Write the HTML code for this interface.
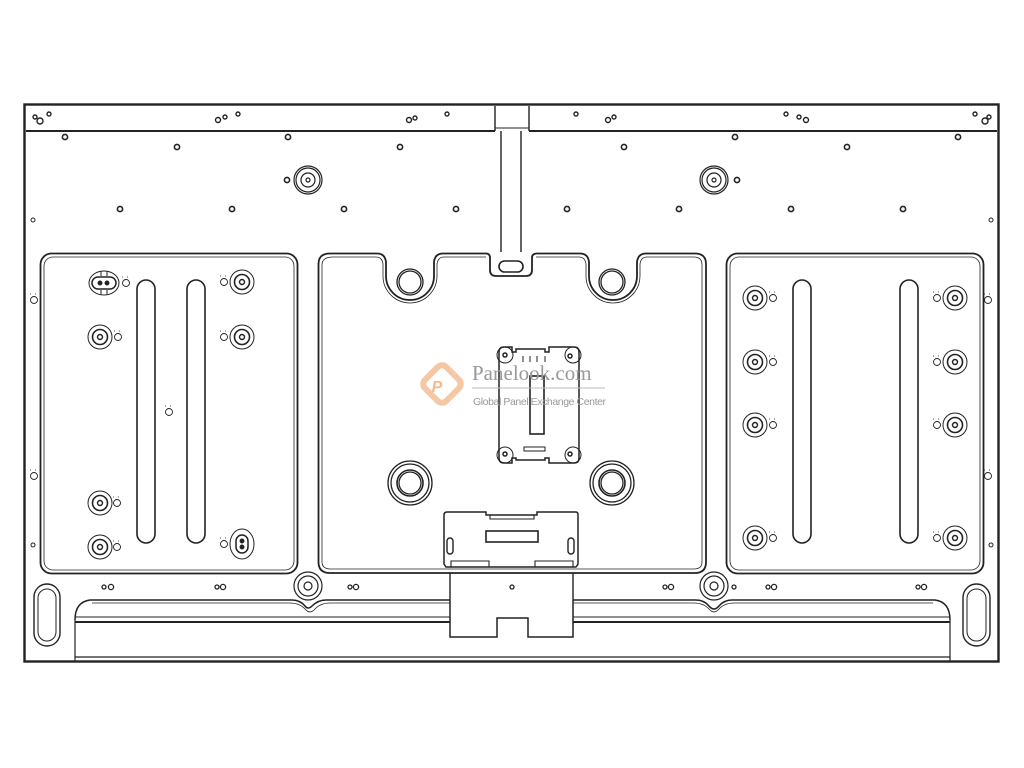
<!DOCTYPE html>
<html><head><meta charset="utf-8"><style>
html,body{margin:0;padding:0;background:#fff;}
svg{display:block}
</style></head><body>
<svg width="1024" height="768" viewBox="0 0 1024 768" xmlns="http://www.w3.org/2000/svg" fill="none" stroke="#222" stroke-width="1.3">
<defs>
<g id="sm"><circle r="2.6" stroke-width="1.6"/></g>
<g id="boss"><circle r="12" stroke-width="1"/><circle r="7.5" stroke-width="1.6"/><circle r="2.5" stroke-width="1.4"/></g>
<g id="pin"><circle cx="0" cy="2" r="3.5" stroke-width="0.9"/><path d="M-4 -4h2M1 -4h2" stroke-width="0.8" stroke-dasharray="1 1"/></g>
</defs>
<!-- outer frame -->
<rect x="24.5" y="104.5" width="974" height="557" stroke-width="2.4"/>
<line x1="26" y1="131" x2="495" y2="131" stroke-width="2"/>
<line x1="529" y1="131" x2="997" y2="131" stroke-width="2"/>
<path d="M495 106V131M529 106V131M501 131V252M521 131V252" stroke-width="1.4"/>
<path d="M495 128H529" stroke-width="1"/>
<!-- top small holes -->
<g stroke-width="1.4">
<circle cx="35" cy="117" r="2"/><circle cx="40" cy="121" r="3"/><circle cx="49" cy="114" r="2"/>
<circle cx="218" cy="120" r="2.5"/><circle cx="225" cy="117" r="2"/><circle cx="238" cy="114" r="2"/>
<circle cx="409" cy="120" r="2.5"/><circle cx="415" cy="118" r="2"/><circle cx="447" cy="114" r="2"/>
<circle cx="576" cy="114" r="2"/><circle cx="608" cy="120" r="2.5"/><circle cx="614" cy="117" r="2"/>
<circle cx="786" cy="114" r="2"/><circle cx="799" cy="117" r="2"/><circle cx="806" cy="120" r="2.5"/>
<circle cx="975" cy="114" r="2"/><circle cx="985" cy="121" r="3"/><circle cx="989" cy="117" r="2"/>
</g>
<g>
<use href="#sm" x="65" y="137"/><use href="#sm" x="177" y="147"/><use href="#sm" x="288" y="137"/><use href="#sm" x="400" y="147"/>
<use href="#sm" x="624" y="147"/><use href="#sm" x="735" y="137"/><use href="#sm" x="847" y="147"/><use href="#sm" x="958" y="137"/>
<use href="#sm" x="120" y="209"/><use href="#sm" x="232" y="209"/><use href="#sm" x="344" y="209"/><use href="#sm" x="456" y="209"/>
<use href="#sm" x="567" y="209"/><use href="#sm" x="679" y="209"/><use href="#sm" x="791" y="209"/><use href="#sm" x="903" y="209"/>
<use href="#sm" x="287" y="180"/><use href="#sm" x="737" y="180"/>
</g>
<circle cx="33" cy="220" r="2" stroke-width="1"/><circle cx="991" cy="220" r="2" stroke-width="1"/>
<circle cx="33" cy="545" r="2" stroke-width="1"/><circle cx="991" cy="545" r="2" stroke-width="1"/>
<use href="#pin" x="34" y="298"/><use href="#pin" x="34" y="474"/><use href="#pin" x="988" y="298"/><use href="#pin" x="988" y="474"/>
<!-- top bosses -->
<g stroke-width="1.2"><circle cx="308" cy="180" r="14"/><circle cx="308" cy="180" r="12"/><circle cx="308" cy="180" r="7"/><circle cx="308" cy="180" r="2"/>
<circle cx="714" cy="180" r="14"/><circle cx="714" cy="180" r="12"/><circle cx="714" cy="180" r="7"/><circle cx="714" cy="180" r="2"/></g>
<!-- left panel -->
<rect x="40.5" y="253.5" width="257" height="320" rx="11" stroke-width="1.8"/>
<rect x="44" y="257" width="250" height="313" rx="9" stroke-width="0.8"/>
<rect x="137" y="280" width="18" height="263" rx="9" stroke-width="1.6"/>
<rect x="187" y="280" width="18" height="263" rx="9" stroke-width="1.6"/>
<!-- right panel -->
<rect x="726.5" y="253.5" width="257" height="320" rx="11" stroke-width="1.8"/>
<rect x="730" y="257" width="250" height="313" rx="9" stroke-width="0.8"/>
<rect x="793" y="280" width="18" height="263" rx="9" stroke-width="1.6"/>
<rect x="900" y="280" width="18" height="263" rx="9" stroke-width="1.6"/>
<!-- left bosses -->
<g><ellipse cx="104" cy="283" rx="15" ry="12" stroke-width="1"/><rect x="92" y="277" width="24" height="12" rx="6" stroke-width="1.5"/><path d="M101 271v5M107 271v5M101 290v5M107 290v5" stroke-width="1"/><circle cx="100" cy="283" r="1.8" fill="#222"/><circle cx="107" cy="283" r="1.8" fill="#222"/></g>
<use href="#pin" x="126" y="281"/>
<use href="#boss" x="100" y="337"/><use href="#pin" x="118" y="335"/>
<use href="#boss" x="242" y="282"/><use href="#pin" x="224" y="280"/>
<use href="#boss" x="242" y="337"/><use href="#pin" x="224" y="335"/>
<use href="#boss" x="100" y="503"/><use href="#pin" x="117" y="501"/>
<use href="#boss" x="100" y="547"/><use href="#pin" x="117" y="545"/>
<g><ellipse cx="242" cy="544" rx="12" ry="15" stroke-width="1"/><rect x="236" y="535" width="12" height="18" rx="6" stroke-width="1.5"/><circle cx="242" cy="541" r="1.8" fill="#222"/><circle cx="242" cy="547" r="1.8" fill="#222"/></g>
<use href="#pin" x="224" y="542"/><use href="#pin" x="169" y="410"/>
<!-- right bosses -->
<use href="#boss" x="755" y="298"/><use href="#pin" x="773" y="296"/>
<use href="#boss" x="755" y="362"/><use href="#pin" x="773" y="360"/>
<use href="#boss" x="755" y="425"/><use href="#pin" x="773" y="423"/>
<use href="#boss" x="755" y="538"/><use href="#pin" x="773" y="536"/>
<use href="#boss" x="955" y="298"/><use href="#pin" x="937" y="296"/>
<use href="#boss" x="955" y="362"/><use href="#pin" x="937" y="360"/>
<use href="#boss" x="955" y="425"/><use href="#pin" x="937" y="423"/>
<use href="#boss" x="955" y="538"/><use href="#pin" x="937" y="536"/>
<!-- center panel -->
<path d="M330 253.5H377Q385 253.5 386 262V276A24 24 0 0 0 434 276V262Q435 253.5 443 253.5H486Q490 253.5 490 258V270Q490 276 496 276H526Q532 276 532 270V258Q532 253.5 537 253.5H580Q588 253.5 589 262V276A24 24 0 0 0 637 276V262Q638 253.5 646 253.5H695Q706 253.5 706 264V562Q706 573 695 573H330Q318.5 573 318.5 562V264Q318.5 253.5 330 253.5Z" stroke-width="1.8"/>
<path d="M333 257H376Q382 257 383 264V276A27 27 0 0 0 437 276V264Q438 257 444 257H486M536 257H579Q585 257 586 264V276A27 27 0 0 0 640 276V264Q641 257 647 257H694Q702 257 702 265V562Q702 569 694 569H331Q322 569 322 562V265Q322 257 333 257" stroke-width="0.8"/>
<rect x="499" y="261" width="24" height="11" rx="5.5" stroke-width="1.6"/>
<g stroke-width="1.3"><circle cx="410" cy="282" r="13"/><circle cx="410" cy="282" r="11"/><circle cx="612" cy="282" r="13"/><circle cx="612" cy="282" r="11"/>
<circle cx="410" cy="483" r="22"/><circle cx="410" cy="483" r="19"/><circle cx="410" cy="483" r="13" stroke-width="1.6"/><circle cx="410" cy="483" r="11"/>
<circle cx="612" cy="483" r="22"/><circle cx="612" cy="483" r="19"/><circle cx="612" cy="483" r="13" stroke-width="1.6"/><circle cx="612" cy="483" r="11"/></g>
<!-- center bracket -->
<path d="M499 352Q499 347 504 347H512V352H516V349H545V352H549V347H574Q579 347 579 352V458Q579 463 574 463H549V458H545V460H516V458H512V463H504Q499 463 499 458Z" stroke-width="1.5"/>
<g stroke-width="1"><circle cx="505" cy="355" r="8"/><circle cx="573" cy="355" r="8"/><circle cx="505" cy="455" r="8"/><circle cx="573" cy="455" r="8"/></g>
<g><circle cx="505" cy="355" r="2" stroke-width="1.5"/><circle cx="570" cy="356" r="2" stroke-width="1.5"/><circle cx="505" cy="454" r="2" stroke-width="1.5"/><circle cx="570" cy="454" r="2" stroke-width="1.5"/></g>
<rect x="530" y="376" width="14" height="58" stroke-width="1.6"/>
<path d="M523 356v6M530 356v6M537 356v6M545 356v6M524 451h21v-4h-21z" stroke-width="1"/>
<!-- lower bracket -->
<path d="M447 512H486V515H537V512H576Q578 512 578 515V564L576 567H446L444 564V515Q444 512 447 512Z" stroke-width="1.5"/>
<path d="M490 515v4h44v-4M451 567v-6h38v6M535 567v-6h38v6" stroke-width="1.1"/>
<rect x="486" y="531" width="52" height="11" stroke-width="1.6"/>
<rect x="447" y="538" width="6" height="16" rx="3" stroke-width="1.4"/><rect x="568" y="538" width="6" height="16" rx="3" stroke-width="1.4"/>
<!-- bottom block and rail -->
<path d="M450 573V600M573 573V600" stroke-width="1.4"/>
<path d="M90 600H292Q300 600 305 606Q308 610 312 606Q318 600 326 600H450M573 600H696Q704 600 709 606Q714 612 719 606Q724 600 732 600H935Q950 602 950 620" stroke-width="1.5"/>
<path d="M75 620Q75 602 90 600" stroke-width="1.5"/>
<path d="M92 603H290Q300 603 306 610Q310 614 314 610Q320 603 330 603H450M573 603H694Q704 603 710 610Q714 614 718 610Q724 603 734 603H933" stroke-width="0.8"/>
<path d="M75 617H450M573 617H950" stroke-width="1"/>
<path d="M75 622H450M573 622H950" stroke-width="2"/>
<path d="M450 600V637H497V618H528V637H573V600" stroke-width="1.5"/>
<path d="M75 620V661M950 620V661M75 657H950" stroke-width="1.2"/>
<g stroke-width="1.2"><circle cx="308" cy="586" r="14"/><circle cx="308" cy="586" r="10"/><circle cx="308" cy="586" r="4"/>
<circle cx="714" cy="586" r="14"/><circle cx="714" cy="586" r="10"/><circle cx="714" cy="586" r="4"/></g>
<g stroke-width="1.3"><circle cx="104" cy="587" r="2"/><circle cx="111" cy="587" r="2.6"/><circle cx="217" cy="587" r="2"/><circle cx="223" cy="587" r="2.6"/><circle cx="350" cy="587" r="2"/><circle cx="356" cy="587" r="2.6"/><circle cx="512" cy="587" r="2"/>
<circle cx="665" cy="587" r="2"/><circle cx="671" cy="587" r="2.6"/><circle cx="734" cy="587" r="2"/><circle cx="768" cy="587" r="2"/><circle cx="774" cy="587" r="2.6"/><circle cx="918" cy="587" r="2"/><circle cx="924" cy="587" r="2.6"/></g>
<rect x="34" y="584" width="26" height="62" rx="13" stroke-width="1.4"/><rect x="38" y="589" width="18" height="52" rx="9" stroke-width="1"/>
<rect x="963" y="584" width="27" height="62" rx="13.5" stroke-width="1.4"/><rect x="967" y="589" width="19" height="52" rx="9.5" stroke-width="1"/>
<!-- watermark -->
<g transform="translate(442 384) rotate(45)"><rect x="-15" y="-15" width="30" height="30" rx="6" stroke="#f6c7a5" stroke-width="6"/></g>
<text x="437" y="392" fill="#f4b98e" stroke="none" font-family="Liberation Sans, sans-serif" font-weight="bold" font-style="italic" font-size="16" text-anchor="middle">P</text>
<text x="472" y="380" fill="#999" stroke="none" font-family="Liberation Serif, serif" font-size="21">Panelook.com</text>
<line x1="472" y1="388" x2="605" y2="388" stroke="#bbb" stroke-width="1"/>
<text x="473" y="405" fill="#999" stroke="none" font-family="Liberation Sans, sans-serif" font-size="10.5" textLength="133">Global Panel Exchange Center</text>
</svg>
</body></html>
